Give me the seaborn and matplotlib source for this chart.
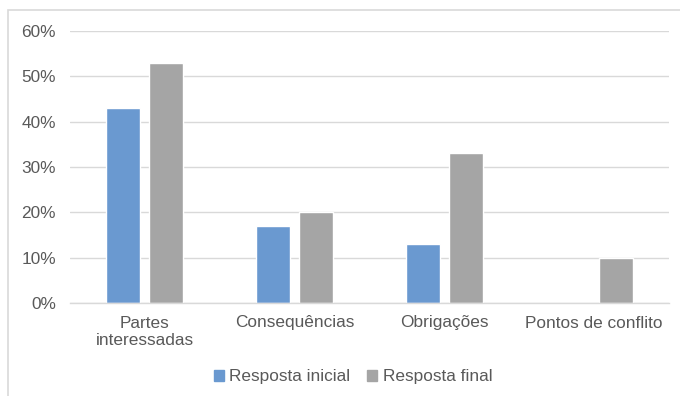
import matplotlib
matplotlib.use("Agg")
import matplotlib.pyplot as plt
import seaborn as sns
import pandas as pd
from matplotlib.patches import Rectangle
from matplotlib.ticker import PercentFormatter

categories = ["Partes\ninteressadas", "Consequências", "Obrigações", "Pontos de conflito"]
resposta_inicial = [43, 17, 13, 0]
resposta_final = [53, 20, 33, 10]
series_names = ["Resposta inicial", "Resposta final"]
y_ticks = [0, 10, 20, 30, 40, 50, 60]

df = pd.DataFrame({
    "categoria": categories * 2,
    "valor": resposta_inicial + resposta_final,
    "serie": [series_names[0]] * 4 + [series_names[1]] * 4,
})

sns.set_theme(style="white")
plt.rcParams["font.family"] = ["Liberation Sans", "DejaVu Sans"]

FS = 12.4
fig = plt.figure(figsize=(6.8, 3.96), dpi=100)
ax = fig.add_axes([70/680, 1-303/396, (669-70)/680, (303-31)/396])

sns.barplot(data=df, x="categoria", y="valor", hue="serie", ax=ax,
            palette=["#6A99D0", "#A5A5A5"], width=0.575, gap=0.21,
            saturation=1, legend=False)

ax.set_ylim(0, 60)
ax.set_yticks(y_ticks)
ax.yaxis.set_major_formatter(PercentFormatter(decimals=0))
ax.set_xlim(-0.5, 3.5)
ax.grid(axis="y", color="#D9D9D9", linewidth=1)
ax.set_axisbelow(True)
for s in ["top", "right", "left"]:
    ax.spines[s].set_visible(False)
ax.spines["bottom"].set_color("#D9D9D9")
ax.spines["bottom"].set_linewidth(1)
ax.tick_params(axis="both", length=0, labelsize=FS, labelcolor="#595959")
ax.tick_params(axis="y", pad=10)
ax.tick_params(axis="x", pad=9)
ax.set_xlabel("")
ax.set_ylabel("")

handles = [Rectangle((0, 0), 1, 1, color=c) for c in ["#6A99D0", "#A5A5A5"]]
fig.legend(handles, series_names, loc="center", bbox_to_anchor=(353/680, 1-377/396),
           ncol=2, frameon=False, fontsize=FS, labelcolor="#595959",
           handlelength=0.58, handleheight=0.58, handletextpad=0.3, columnspacing=1.0)

fig.patches.append(Rectangle((8/680, -0.01), 1.0, 1-10/396 + 0.01, transform=fig.transFigure,
                             fill=False, edgecolor="#D9D9D9", linewidth=1.2))

fig.savefig("out.png", dpi=100)
